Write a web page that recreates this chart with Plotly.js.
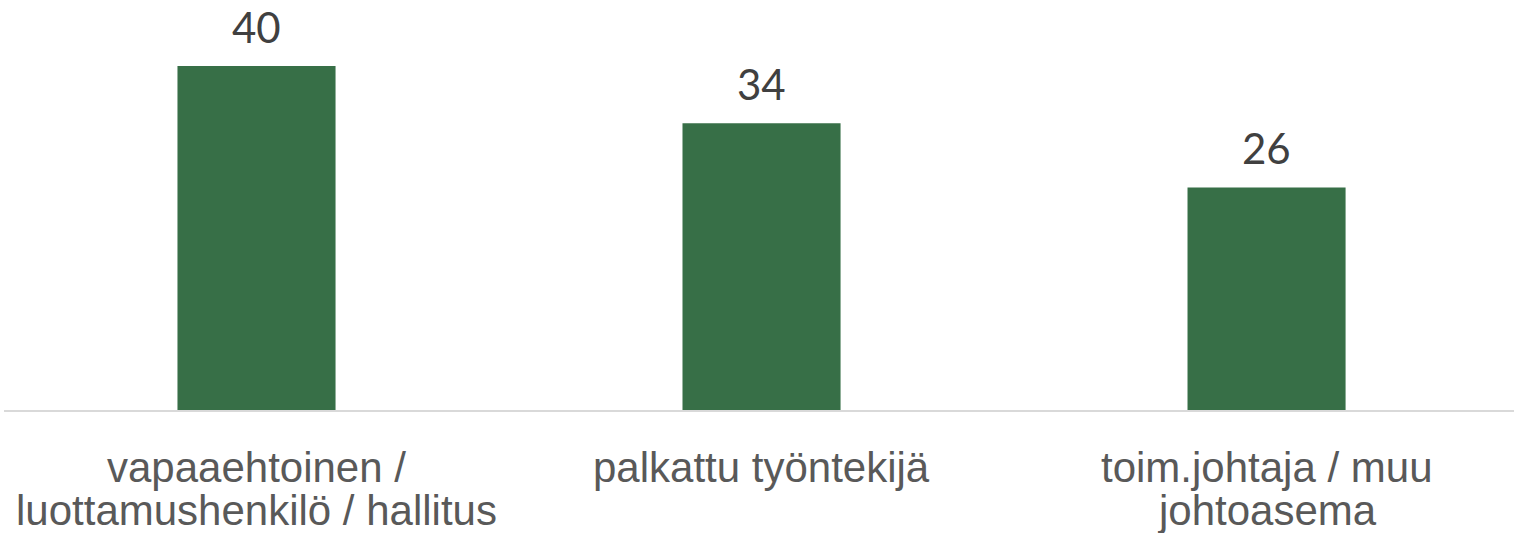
<!DOCTYPE html>
<html>
<head>
<meta charset="utf-8">
<script src="https://cdn.plot.ly/plotly-3.0.1.min.js"></script>
<style>html,body{margin:0;padding:0;background:#fff;}#chart{width:1514px;height:533px;}</style>
</head>
<body>
<div id="chart"></div>
<script>
const categories = ["vapaaehtoinen / luottamushenkilö / hallitus", "palkattu työntekijä", "toim.johtaja / muu johtoasema"];
const categoryLines = [["vapaaehtoinen /", "luottamushenkilö / hallitus"], ["palkattu työntekijä"], ["toim.johtaja / muu", "johtoasema"]];
const values = [40.2, 33.5, 26.0];
const valueLabels = ["40", "34", "26"];

const xs = categories.map((c, i) => i);

const annotations = [];
values.forEach((v, i) => {
  annotations.push({
    x: xs[i], y: v, xref: 'x', yref: 'y', text: valueLabels[i], showarrow: false,
    yanchor: 'bottom', xanchor: 'center', yshift: 12,
    font: {family: 'Lato, "Open Sans", sans-serif', size: 42, color: '#404040'}
  });
});
categoryLines.forEach((lines, i) => {
  lines.forEach((t, j) => {
    annotations.push({
      x: xs[i], y: 0, xref: 'x', yref: 'y', text: t, showarrow: false,
      yanchor: 'middle', xanchor: 'center', yshift: -57 - j * 43,
      font: {family: '"Liberation Sans", Arial, sans-serif', size: 42, color: '#595959'}
    });
  });
});

const trace = {
  type: 'bar', x: xs, y: values, width: 0.313,
  marker: {color: '#376F47'}, hoverinfo: 'skip'
};

const layout = {
  width: 1514, height: 533,
  margin: {l: 4, r: 0, t: 0, b: 123, pad: 0},
  paper_bgcolor: '#ffffff', plot_bgcolor: '#ffffff',
  showlegend: false,
  xaxis: {range: [-0.5, 2.49], showticklabels: false, ticks: '', showgrid: false, zeroline: false,
          showline: true, linecolor: '#d9d9d9', linewidth: 2, fixedrange: true},
  yaxis: {range: [0, 47.9], visible: false, showgrid: false, zeroline: false, fixedrange: true},
  annotations: annotations
};

Plotly.newPlot('chart', [trace], layout, {displayModeBar: false, staticPlot: true});
</script>
</body>
</html>
